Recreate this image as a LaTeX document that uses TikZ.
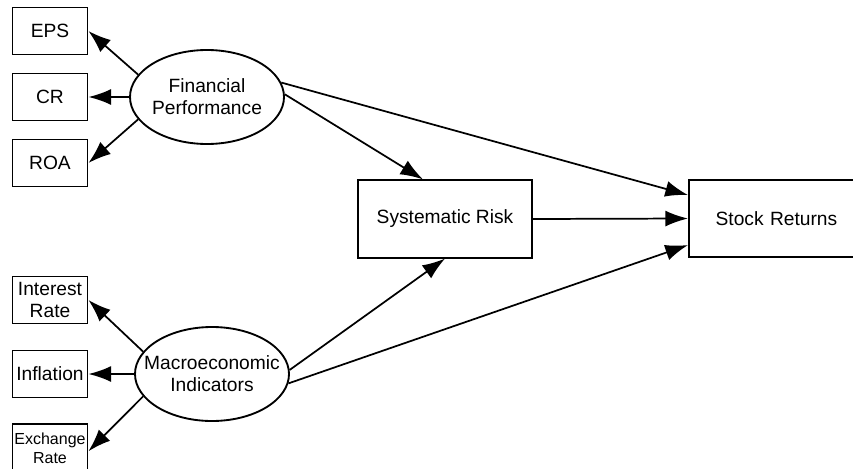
\documentclass[tikz,border=0pt]{standalone}
\usepackage{fontspec}
\setmainfont{Liberation Sans}
\usetikzlibrary{arrows.meta,shapes.geometric}

\begin{document}
\begin{tikzpicture}[x=0.75pt,y=-0.75pt,line width=1.4pt,
  every node/.style={font=\fontsize{14.4}{16.5}\selectfont,align=center,inner sep=0pt},
  ind/.style={draw,minimum width=56.25pt,minimum height=35.25pt},
  latent/.style={draw,ellipse,inner xsep=-10pt,minimum width=115.5pt,minimum height=70.5pt},
  var/.style={draw,minimum width=130.5pt,minimum height=58pt},
  arr/.style={-{Latex[length=17pt,width=12pt]},line width=1.3pt}]
\useasboundingbox (0,0) rectangle (853,468);

\node[latent] (fin) at (207,97) {Financial\\Performance};
\node[ind] (eps) at (50,31) {EPS};
\node[ind] (cr) at (50,97) {CR};
\node[ind] (roa) at (50,163) {ROA};

\node[latent] (mac) at (212,374) {Macroeconomic\\Indicators};
\node[ind] (int) at (50,300) {Interest\\Rate};
\node[ind] (inf) at (50,374) {Inflation};
\node[ind,anchor=north,minimum height=50pt,text depth=14pt,
  font=\fontsize{12}{14.5}\selectfont] (exr) at (50,423) {Exchange\\Rate};

\node[var] (risk) at (445,219) {Systematic Risk};
\node[var,anchor=west,align=left,text width=110pt,inner xsep=20pt] (ret) at (688,218.5) {Stock Returns};

\draw[arr] (fin.162) -- (eps.east);
\draw[arr] (fin.west) -- (cr.east);
\draw[arr] (fin.198) -- (roa.east);
\draw[arr] (mac.162) -- (int.east);
\draw[arr] (mac.west) -- (inf.east);
\draw[arr] (mac.198) -- ([yshift=4.5pt]exr.east);

\draw[arr] (fin.2) -- ([xshift=-16.5pt]risk.north);
\draw[arr] (fin.11) -- ([yshift=17.6pt]ret.west);
\draw[arr] (risk.east) -- (ret.west);
\draw[arr] (mac.3) -- (risk.south);
\draw[arr] (mac.-7) -- ([yshift=-19.9pt]ret.west);
\end{tikzpicture}
\end{document}
